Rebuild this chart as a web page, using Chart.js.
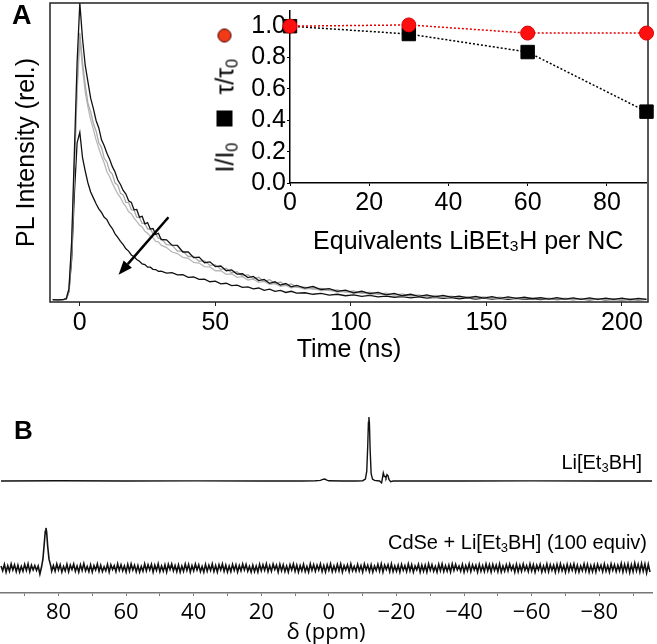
<!DOCTYPE html>
<html>
<head>
<meta charset="utf-8">
<script src="https://cdn.jsdelivr.net/npm/chart.js@4.4.1/dist/chart.umd.min.js"></script>
<style>
  body{margin:0;background:#fff;}
  #fig{position:relative;width:657px;height:644px;overflow:hidden;font-family:"Liberation Sans",Arial,sans-serif;color:#000;}
  canvas{position:absolute;}
  .lbl{position:absolute;line-height:1;white-space:nowrap;}
  .lbl sub{font-size:0.65em;vertical-align:baseline;position:relative;top:0.25em;}
  #inYT{position:absolute;left:153px;top:89px;width:143px;height:24px;display:flex;align-items:center;
        font-size:25px;line-height:1;transform:rotate(-90deg);transform-origin:center;white-space:nowrap;}
  #inYT sub{font-size:0.65em;vertical-align:baseline;position:relative;top:0.25em;}
  #inYT .sq{display:inline-block;flex:none;width:16px;height:16px;background:#000;margin:0 16px 0 16px;}
  #inYT .dot{display:inline-block;flex:none;width:12px;height:12px;border-radius:50%;background:#f03a18;border:1px solid #400;margin-left:16px;}
</style>
</head>
<body>
<div id="fig">
  <canvas id="cA" width="657" height="365" style="left:0;top:0"></canvas>
  <canvas id="cIn" width="457" height="260" style="left:200px;top:0"></canvas>
  <canvas id="cB" width="657" height="268" style="left:0;top:380px"></canvas>
  <div class="lbl" style="left:12px;top:2px;font-size:27px;font-weight:bold">A</div>
  <div class="lbl" style="left:14px;top:417px;font-size:26px;font-weight:bold">B</div>
  <div id="inYT"><span>I/I<sub>0</sub></span><i class="sq"></i><span>τ/τ<sub>0</sub></span><i class="dot"></i></div>
  <div class="lbl" style="right:15px;top:452px;font-size:20px">Li[Et<sub>3</sub>BH]</div>
  <div class="lbl" style="right:10px;top:532px;font-size:20px">CdSe + Li[Et<sub>3</sub>BH] (100 equiv)</div>
</div>
<script>
// ---- panel A: PL decays (0, 30, 60, 90 equiv) ----
const timeNs = [-10,-8,-6,-5,-4,-3,-2,-1,
  0,1,2,3,4,5,6,7,8,9,10,11,12,13,14,15,16,17,18,19,20,21,22,23,24,25,26,27,28,29,30,
  32,34,36,38,40,42,44,46,48,50,52,54,56,58,60,62,64,66,68,70,72,74,76,78,80,
  83,86,89,92,95,98,101,104,107,110,113,116,119,122,125,128,131,134,137,140,
  143,146,149,152,155,158,161,164,167,170,173,176,179,182,185,188,191,194,197,200,203,206,209];

const pl0 = [0.003,0.002,0.004,0.006,0.04,0.2,0.5,0.8,
  1.0,0.88,0.79,0.735,0.68,0.645,0.605,0.58,0.54,0.52,0.495,0.475,0.45,0.432,0.405,0.39,0.37,0.358,0.335,0.33,
  0.305,0.306,0.28,0.283,0.258,0.262,0.24,0.242,0.222,0.226,0.205,
  0.204,0.186,0.185,0.163,0.163,0.144,0.146,0.127,0.13,0.114,0.116,0.1,0.103,0.089,0.09,0.077,0.081,0.067,0.071,0.058,
  0.063,0.052,0.057,0.046,0.051,
  0.042,0.047,0.037,0.04,0.031,0.035,0.026,0.031,0.023,0.027,0.019,0.024,0.016,0.021,0.014,0.019,0.012,0.017,0.011,0.015,
  0.009,0.014,0.008,0.013,0.007,0.012,0.007,0.011,0.006,0.01,0.005,0.01,0.005,0.009,0.004,0.009,0.004,0.008,0.004,0.008,
  0.003,0.007,0.004];
const pl30 = [0.003,0.003,0.003,0.005,0.035,0.18,0.45,0.72,
  0.9,0.8,0.725,0.662,0.635,0.595,0.57,0.53,0.515,0.478,0.465,0.435,0.425,0.395,0.388,0.36,0.355,0.33,0.329,0.305,
  0.304,0.28,0.279,0.259,0.259,0.24,0.241,0.225,0.224,0.209,0.208,
  0.188,0.186,0.166,0.166,0.148,0.148,0.132,0.133,0.118,0.12,0.105,0.108,0.093,0.097,0.082,0.087,0.073,0.078,0.064,0.07,
  0.057,0.062,0.05,0.056,0.045,
  0.045,0.038,0.041,0.033,0.036,0.028,0.032,0.024,0.028,0.021,0.025,0.018,0.022,0.015,0.019,0.013,0.017,0.011,0.015,0.01,
  0.013,0.009,0.012,0.008,0.011,0.007,0.01,0.006,0.009,0.006,0.008,0.005,0.008,0.004,0.007,0.004,0.007,0.004,0.006,0.003,
  0.006,0.003,0.005];
const pl60 = [0.002,0.003,0.003,0.005,0.035,0.17,0.44,0.7,
  0.88,0.78,0.7,0.65,0.608,0.575,0.54,0.512,0.485,0.462,0.433,0.416,0.394,0.376,0.358,0.346,0.328,0.316,0.298,0.292,
  0.277,0.266,0.254,0.247,0.233,0.226,0.216,0.211,0.199,0.197,0.186,
  0.178,0.163,0.158,0.145,0.142,0.128,0.126,0.114,0.113,0.1,0.1,0.088,0.09,0.078,0.08,0.069,0.072,0.061,0.064,0.054,
  0.057,0.048,0.051,0.043,0.046,
  0.038,0.041,0.033,0.035,0.028,0.031,0.024,0.027,0.02,0.024,0.017,0.021,0.015,0.018,0.013,0.016,0.011,0.014,0.01,0.012,
  0.009,0.011,0.008,0.01,0.007,0.009,0.006,0.008,0.006,0.008,0.005,0.007,0.004,0.006,0.004,0.006,0.003,0.006,0.003,0.005,
  0.003,0.005,0.003];
const pl90 = [0.003,0.002,0.003,0.005,0.03,0.14,0.36,0.53,
  0.565,0.48,0.435,0.395,0.365,0.345,0.325,0.308,0.296,0.28,0.272,0.254,0.242,0.224,0.212,0.199,0.188,0.174,0.166,0.153,
  0.147,0.138,0.132,0.123,0.121,0.112,0.112,0.105,0.104,0.098,0.099,
  0.092,0.094,0.086,0.087,0.078,0.079,0.071,0.072,0.063,0.065,0.056,0.058,0.05,0.052,0.044,0.046,0.039,0.042,0.034,0.038,
  0.031,0.034,0.027,0.031,0.025,
  0.026,0.021,0.024,0.018,0.021,0.016,0.019,0.014,0.017,0.012,0.015,0.011,0.013,0.009,0.012,0.008,0.011,0.007,0.01,0.006,
  0.009,0.005,0.008,0.005,0.007,0.004,0.007,0.004,0.006,0.003,0.006,0.003,0.005,0.003,0.005,0.002,0.005,0.002,0.004,0.002,
  0.004,0.002,0.004];
const timeTicks = [0,50,100,150,200];
const arrowFrom = [32.7,0.28], arrowTo = [14.3,0.087];

// ---- inset ----
const equiv = [0,30,60,90];
const intRatio = [1.0,0.95,0.835,0.455];
const tauRatio = [1.0,1.008,0.956,0.956];

// ---- panel B: NMR ----
const ppmTop = [97,80,60,40,20,8,4,2.5,1.8,1.2,0.6,0,-4,-8,-10,-10.8,-11.2,-11.5,-11.7,-11.85,-12.0,-12.2,-12.5,-12.9,-13.5,
  -15,-15.6,-15.9,-16.1,-16.4,-16.7,-16.9,-17.2,-17.5,-17.8,-18.3,-19,-25,-40,-60,-80,-95.6];
const nmrTop = [0,0.003,0,0.002,0,0,0.003,0.01,0.025,0.03,0.015,0.003,0,0,0.005,0.03,0.15,0.55,0.92,1.0,0.9,0.5,0.12,0.03,0.01,
  0,-0.03,0.06,0.125,0.07,0.07,0.05,0.1,0.08,0.02,-0.01,0,0,0,0.002,0,0];
const ppmBot = [97,96.5,96,95.5,95,94.5,94,93.5,93,92.5,92,91.5,91,90.5,90,89.5,89,88.5,88,87.5,87,
  86.5,86,85.5,85,84.6,84.2,83.9,83.7,83.5,83.2,82.8,82.3,82,
  81.5,81,80.5,80,79.5,79,78.5,78,77.5,77,76.5,76,75.5,75,74.5,74,73.5,73,72.5,72,
  71.5,71,70.5,70,69.5,69,68.5,68,67.5,67,66.5,66,65.5,65,64.5,64,63.5,63,62.5,62,
  61.5,61,60.5,60,59.5,59,58.5,58,57.5,57,56.5,56,55.5,55,54.5,54,53.5,53,52.5,52,
  51.5,51,50.5,50,49.5,49,48.5,48,47.5,47,46.5,46,45.5,45,44.5,44,43.5,43,42.5,42,
  41.5,41,40.5,40,39.5,39,38.5,38,37.5,37,36.5,36,35.5,35,34.5,34,33.5,33,32.5,32,
  31.5,31,30.5,30,29.5,29,28.5,28,27.5,27,26.5,26,25.5,25,24.5,24,23.5,23,22.5,22,
  21.5,21,20.5,20,19.5,19,18.5,18,17.5,17,16.5,16,15.5,15,14.5,14,13.5,13,12.5,12,
  11.5,11,10.5,10,9.5,9,8.5,8,7.5,7,6.5,6,5.5,5,4.5,4,3.5,3,2.5,2,
  1.5,1,0.5,0,-0.5,-1,-1.5,-2,-2.5,-3,-3.5,-4,-4.5,-5,-5.5,-6,-6.5,-7,-7.5,-8,
  -8.5,-9,-9.5,-10,-10.5,-11,-11.5,-12,-12.5,-13,-13.5,-14,-14.5,-15,-15.5,-16,-16.5,-17,-17.5,-18,
  -18.5,-19,-19.5,-20,-20.5,-21,-21.5,-22,-22.5,-23,-23.5,-24,-24.5,-25,-25.5,-26,-26.5,-27,-27.5,-28,
  -28.5,-29,-29.5,-30,-30.5,-31,-31.5,-32,-32.5,-33,-33.5,-34,-34.5,-35,-35.5,-36,-36.5,-37,-37.5,-38,
  -38.5,-39,-39.5,-40,-40.5,-41,-41.5,-42,-42.5,-43,-43.5,-44,-44.5,-45,-45.5,-46,-46.5,-47,-47.5,-48,
  -48.5,-49,-49.5,-50,-50.5,-51,-51.5,-52,-52.5,-53,-53.5,-54,-54.5,-55,-55.5,-56,-56.5,-57,-57.5,-58,
  -58.5,-59,-59.5,-60,-60.5,-61,-61.5,-62,-62.5,-63,-63.5,-64,-64.5,-65,-65.5,-66,-66.5,-67,-67.5,-68,
  -68.5,-69,-69.5,-70,-70.5,-71,-71.5,-72,-72.5,-73,-73.5,-74,-74.5,-75,-75.5,-76,-76.5,-77,-77.5,-78,
  -78.5,-79,-79.5,-80,-80.5,-81,-81.5,-82,-82.5,-83,-83.5,-84,-84.5,-85,-85.5,-86,-86.5,-87,-87.5,-88,
  -88.5,-89,-89.5,-90,-90.5,-91,-91.5,-92,-92.5,-93,-93.5,-94,-94.5,-95];
const nmrBot = [0.05,-0.07,0.09,-0.1,0.06,-0.08,0.1,-0.05,0.08,-0.09,0.07,-0.1,0.04,-0.08,0.09,-0.06,0.1,-0.09,0.07,-0.05,0.06,
  -0.06,0.05,-0.15,0.03,0.22,0.62,0.92,1.0,0.9,0.55,0.22,0.06,-0.08,
  0.06,-0.08,0.1,-0.05,0.08,-0.1,0.04,-0.07,0.09,-0.09,0.07,-0.04,0.1,-0.08,0.05,-0.1,0.08,-0.06,0.11,-0.07,
  0.04,-0.09,0.08,-0.1,0.06,-0.05,0.1,-0.08,0.07,-0.09,0.03,-0.07,0.09,-0.1,0.08,-0.04,0.06,-0.09,0.1,-0.06,
  0.08,-0.07,0.05,-0.1,0.09,-0.08,0.1,-0.05,0.07,-0.09,0.06,-0.1,0.04,-0.08,0.1,-0.07,0.08,-0.05,0.09,-0.1,
  0.07,-0.06,0.1,-0.09,0.05,-0.08,0.08,-0.1,0.09,-0.04,0.1,-0.07,0.06,-0.09,0.08,-0.1,0.05,-0.08,0.1,-0.06,
  0.09,-0.1,0.06,-0.07,0.1,-0.05,0.08,-0.09,0.04,-0.1,0.09,-0.08,0.07,-0.06,0.1,-0.09,0.06,-0.1,0.08,-0.05,
  0.1,-0.08,0.07,-0.1,0.05,-0.09,0.09,-0.06,0.08,-0.1,0.06,-0.07,0.1,-0.05,0.09,-0.08,0.04,-0.1,0.07,-0.09,
  0.05,-0.1,0.09,-0.07,0.08,-0.06,0.1,-0.09,0.06,-0.08,0.1,-0.04,0.07,-0.1,0.09,-0.07,0.08,-0.09,0.05,-0.1,
  0.08,-0.05,0.1,-0.08,0.07,-0.1,0.06,-0.07,0.09,-0.09,0.04,-0.1,0.1,-0.06,0.08,-0.08,0.07,-0.05,0.1,-0.09,
  0.06,-0.1,0.08,-0.06,0.1,-0.09,0.05,-0.08,0.09,-0.07,0.1,-0.1,0.06,-0.05,0.08,-0.09,0.1,-0.07,0.04,-0.08,
  0.09,-0.07,0.06,-0.1,0.1,-0.05,0.07,-0.09,0.08,-0.1,0.05,-0.06,0.09,-0.08,0.1,-0.1,0.07,-0.04,0.08,-0.09,
  0.1,-0.09,0.05,-0.08,0.07,-0.1,0.09,-0.06,0.06,-0.09,0.1,-0.07,0.08,-0.1,0.05,-0.05,0.09,-0.1,0.07,-0.08,
  0.07,-0.1,0.1,-0.06,0.08,-0.08,0.04,-0.1,0.09,-0.07,0.1,-0.09,0.06,-0.08,0.07,-0.1,0.1,-0.06,0.09,-0.05,
  0.05,-0.08,0.09,-0.1,0.06,-0.07,0.1,-0.09,0.08,-0.05,0.07,-0.1,0.09,-0.08,0.06,-0.09,0.1,-0.07,0.08,-0.1,
  0.09,-0.06,0.07,-0.09,0.1,-0.1,0.05,-0.08,0.08,-0.07,0.1,-0.05,0.06,-0.1,0.09,-0.09,0.07,-0.08,0.1,-0.06,
  0.06,-0.09,0.1,-0.07,0.08,-0.1,0.07,-0.05,0.09,-0.1,0.05,-0.08,0.1,-0.09,0.08,-0.06,0.07,-0.1,0.09,-0.08,
  0.1,-0.07,0.06,-0.1,0.09,-0.08,0.08,-0.06,0.1,-0.09,0.07,-0.1,0.05,-0.07,0.1,-0.08,0.09,-0.1,0.06,-0.09,
  0.08,-0.1,0.09,-0.05,0.07,-0.09,0.1,-0.08,0.06,-0.1,0.1,-0.06,0.08,-0.09,0.07,-0.07,0.11,-0.1,0.09,-0.08,
  0.1,-0.11,0.08,-0.09,0.12,-0.07,0.09,-0.1,0.11,-0.08,0.1,-0.12,0.09,-0.1];

const FONT = "'Liberation Sans', Arial, sans-serif";
const NMRFONT = "'Open Sans', sans-serif";
Chart.defaults.font.family = FONT;
Chart.defaults.color = "#000";

const xy = (xs, ys) => xs.map((x,i)=>({x, y: ys[i]}));
const noPad = s => { s.paddingTop = 0; s.paddingBottom = 0; s.paddingLeft = 0; s.paddingRight = 0; };

const boxPlugin = {
  id: "box",
  afterDraw(c){
    const a = c.chartArea, ctx = c.ctx;
    ctx.save();
    ctx.strokeStyle = "#222"; ctx.lineWidth = 1.5;
    ctx.strokeRect(a.left, a.top, a.right - a.left, a.bottom - a.top);
    ctx.restore();
  }
};
const arrowPlugin = {
  id: "arrow",
  afterDatasetsDraw(c){
    const sx = c.scales.x, sy = c.scales.y, ctx = c.ctx;
    const x0 = sx.getPixelForValue(arrowFrom[0]), y0 = sy.getPixelForValue(arrowFrom[1]);
    const x1 = sx.getPixelForValue(arrowTo[0]), y1 = sy.getPixelForValue(arrowTo[1]);
    const ang = Math.atan2(y1 - y0, x1 - x0), L = 14, W = 5.5;
    const bx = x1 - L*Math.cos(ang), by = y1 - L*Math.sin(ang);
    ctx.save();
    ctx.strokeStyle = "#000"; ctx.fillStyle = "#000"; ctx.lineWidth = 2.5;
    ctx.beginPath(); ctx.moveTo(x0, y0); ctx.lineTo(bx, by); ctx.stroke();
    ctx.beginPath();
    ctx.moveTo(x1, y1);
    ctx.lineTo(bx + W*Math.sin(ang), by - W*Math.cos(ang));
    ctx.lineTo(bx - W*Math.sin(ang), by + W*Math.cos(ang));
    ctx.closePath(); ctx.fill();
    ctx.restore();
  }
};

// main decay chart
new Chart(document.getElementById("cA"), {
  type: "line",
  data: { datasets: [
    { data: xy(timeNs, pl0),  borderColor: "#111" },
    { data: xy(timeNs, pl30), borderColor: "#a9a9a9" },
    { data: xy(timeNs, pl60), borderColor: "#b8b8b8" },
    { data: xy(timeNs, pl90), borderColor: "#111" }
  ]},
  options: {
    responsive: false, animation: false, devicePixelRatio: 1,
    layout: { padding: { top: 3, right: 9, left: 0, bottom: 0 } },
    plugins: { legend: { display: false }, tooltip: { enabled: false } },
    elements: { point: { radius: 0 }, line: { borderWidth: 1.3, tension: 0 } },
    scales: {
      x: {
        type: "linear", min: -11, max: 209.6,
        afterBuildTicks: s => { s.ticks = timeTicks.map(v => ({ value: v })); },
        ticks: { font: { size: 25 }, color: "#000", padding: 2, maxRotation: 0, autoSkip: false },
        grid: { drawOnChartArea: false, tickLength: 4, color: "#222" },
        border: { display: false },
        title: { display: true, text: "Time (ns)", font: { size: 25 }, color: "#000", padding: 0 },
        afterFit: s => { s.height = 63; noPad(s); }
      },
      y: {
        min: -0.005, max: 1.0,
        ticks: { display: false }, grid: { display: false }, border: { display: false },
        title: { display: true, text: "PL Intensity (rel.)", font: { size: 25 }, color: "#000", padding: { top: 12, bottom: 0 } },
        afterFit: s => { s.width = 50; noPad(s); }
      }
    }
  },
  plugins: [boxPlugin, arrowPlugin]
});

// inset
new Chart(document.getElementById("cIn"), {
  type: "line",
  data: { datasets: [
    { data: xy(equiv, tauRatio), borderColor: "#e00000", borderDash: [2,2], borderWidth: 1.5,
      pointStyle: "circle", pointRadius: 7, pointBackgroundColor: "#ff1010", pointBorderColor: "#e00000", pointBorderWidth: 1 },
    { data: xy(equiv, intRatio), borderColor: "#000", borderDash: [2,2], borderWidth: 1.5,
      pointStyle: "rect", pointRadius: 9.5, pointBackgroundColor: "#000", pointBorderColor: "#000", pointBorderWidth: 1 }
  ]},
  options: {
    responsive: false, animation: false, devicePixelRatio: 1,
    layout: { padding: { top: 3, right: 9, left: 0, bottom: 0 } },
    plugins: { legend: { display: false }, tooltip: { enabled: false } },
    elements: { line: { tension: 0 } },
    clip: false,
    scales: {
      x: {
        type: "linear", min: 0, max: 90,
        ticks: { stepSize: 20, includeBounds: false, font: { size: 25 }, color: "#000", padding: 2, maxRotation: 0 },
        grid: { drawOnChartArea: false, tickLength: 3, color: "#000" },
        border: { color: "#000", width: 1.5 },
        title: { display: true, text: "Equivalents LiBEt\u2083H per NC", font: { size: 25 }, color: "#000", padding: { top: 0, bottom: 3 } },
        afterFit: s => { s.height = 77; noPad(s); }
      },
      y: {
        min: 0, max: 1.1,
        ticks: { stepSize: 0.2, includeBounds: false, font: { size: 25 }, color: "#000", padding: 1,
                 callback: v => v.toFixed(1) },
        grid: { drawOnChartArea: false, tickLength: 3, color: "#000" },
        border: { color: "#000", width: 1.5 },
        afterFit: s => { s.width = 90; noPad(s); }
      }
    }
  }
});

// NMR panel
new Chart(document.getElementById("cB"), {
  type: "line",
  data: { datasets: [
    { data: xy(ppmTop, nmrTop), yAxisID: "yTop", borderColor: "#111", borderWidth: 1.4 },
    { data: xy(ppmBot, nmrBot), yAxisID: "yBot", borderColor: "#111", borderWidth: 1.6 }
  ]},
  options: {
    responsive: false, animation: false, devicePixelRatio: 1,
    layout: { padding: { top: 20, right: 5, left: 0, bottom: 0 } },
    plugins: { legend: { display: false }, tooltip: { enabled: false } },
    elements: { point: { radius: 0 }, line: { tension: 0 } },
    clip: false,
    scales: {
      x: {
        type: "linear", reverse: true, min: -95.6, max: 97.3,
        ticks: { stepSize: 10, includeBounds: false, autoSkip: false, maxRotation: 0, padding: 4,
                 font: { family: NMRFONT, size: 22 }, color: "#000",
                 callback: v => (v % 20 === 0 ? (v < 0 ? "\u2212" + Math.abs(v) : String(v)) : "") },
        grid: { drawOnChartArea: false, tickLength: 3, color: "#777" },
        border: { color: "#777", width: 1.5 },
        title: { display: true, text: "δ (ppm)", font: { family: NMRFONT, size: 22 }, color: "#000", padding: { top: 0, bottom: 2 } },
        afterFit: s => { s.height = 55; noPad(s); }
      },
      yTop: { display: false, min: -1.75, max: 1.266 },
      yBot: { display: false, min: -0.625, max: 4.2 }
    }
  }
});
</script>
</body>
</html>
